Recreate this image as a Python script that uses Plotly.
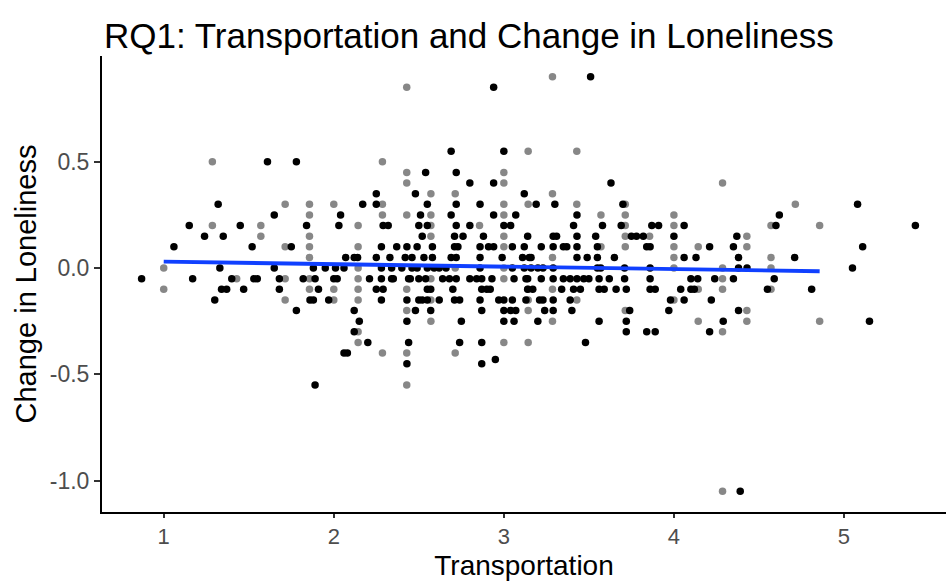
import plotly.graph_objects as go

# Observed (grey) data: Transportation (means of 7 items) vs change in loneliness
grey_x = [
    3.286,
    2.429,
    3.143, 3.429,
    1.286, 2.286,
    2.429, 3.0,
    2.429, 3.0, 4.286,
    2.571, 2.714, 3.286,
    1.714, 1.857, 2.0, 2.286, 3.0, 3.143, 3.429, 3.714, 4.714,
    1.857, 2.286, 2.429, 2.571, 3.0, 3.571, 3.714, 4.0,
    1.286, 1.571, 2.143, 2.571, 2.857, 3.714, 4.0, 4.571, 4.857,
    1.571, 1.857, 2.571, 3.0, 3.714, 3.857, 4.429,
    1.714, 1.857, 2.143, 3.0, 3.571, 3.714, 4.0, 4.143, 4.429,
    1.857, 3.286, 4.0, 4.571,
    1.0, 2.143, 2.714, 3.0, 4.0, 4.286, 4.571,
    1.429, 1.714, 1.857, 2.143, 2.571, 3.0, 4.286,
    1.0, 1.857, 2.0, 2.143, 2.429, 3.143, 3.286, 4.143, 4.286, 4.571,
    1.714, 2.0, 2.143, 2.571, 3.143, 3.429, 4.0,
    2.429, 3.143, 3.714, 4.429,
    2.571, 3.286, 4.143, 4.429, 4.857,
    2.143, 4.286,
    2.143, 3.0, 3.143,
    2.286, 2.429, 2.714,
    2.429,
    4.286,
]
grey_y = [
    0.9,
    0.85,
    0.55, 0.55,
    0.5, 0.5,
    0.45, 0.45,
    0.4, 0.4, 0.4,
    0.35, 0.35, 0.35,
    0.3, 0.3, 0.3, 0.3, 0.3, 0.3, 0.3, 0.3, 0.3,
    0.25, 0.25, 0.25, 0.25, 0.25, 0.25, 0.25, 0.25,
    0.2, 0.2, 0.2, 0.2, 0.2, 0.2, 0.2, 0.2, 0.2,
    0.15, 0.15, 0.15, 0.15, 0.15, 0.15, 0.15,
    0.1, 0.1, 0.1, 0.1, 0.1, 0.1, 0.1, 0.1, 0.1,
    0.05, 0.05, 0.05, 0.05,
    0.0, 0.0, 0.0, 0.0, 0.0, 0.0, 0.0,
    -0.05, -0.05, -0.05, -0.05, -0.05, -0.05, -0.05,
    -0.1, -0.1, -0.1, -0.1, -0.1, -0.1, -0.1, -0.1, -0.1, -0.1,
    -0.15, -0.15, -0.15, -0.15, -0.15, -0.15, -0.15,
    -0.2, -0.2, -0.2, -0.2,
    -0.25, -0.25, -0.25, -0.25, -0.25,
    -0.3, -0.3,
    -0.35, -0.35, -0.35,
    -0.4, -0.4, -0.4,
    -0.55,
    -1.05,
]

# Jittered (black) points
black_x = [
    3.51,
    2.94,
    2.69, 3.00,
    1.61, 1.78,
    2.54, 2.72,
    2.80, 2.94, 3.63,
    2.25, 2.48, 3.12,
    1.32, 2.17, 2.25, 2.55, 2.72, 2.86, 3.19, 3.30, 3.70, 5.08,
    1.65, 2.04, 2.51, 2.69, 2.94, 3.07, 3.43, 4.62,
    1.15, 1.45, 1.84, 2.03, 2.29, 2.32, 2.50, 2.55, 2.72, 2.80, 3.00, 3.04, 3.41, 3.58, 3.69, 3.87, 3.91, 4.06, 4.60, 5.42,
    1.24, 1.35, 2.52, 2.71, 2.76, 2.88, 3.14, 3.29, 3.31, 3.43, 3.54, 3.75, 3.78, 3.82, 4.00, 4.37,
    1.06, 1.52, 1.75, 2.28, 2.37, 2.43, 2.49, 2.58, 2.71, 2.73, 2.86, 2.91, 2.94, 3.05, 3.12, 3.22, 3.29, 3.35, 3.37, 3.43, 3.55, 3.84, 3.86, 4.21, 4.35, 5.11,
    2.07, 2.12, 2.14, 2.25, 2.33, 2.42, 2.46, 2.53, 2.58, 2.69, 2.72, 2.86, 2.99, 3.11, 3.15, 3.16, 3.43, 3.49, 3.55, 3.65, 4.06, 4.13, 4.38, 4.71,
    1.33, 1.65, 1.88, 1.95, 2.01, 2.06, 2.28, 2.34, 2.40, 2.46, 2.49, 2.55, 2.59, 2.62, 2.66, 2.86, 3.05, 3.12, 3.16, 3.20, 3.23, 3.29, 3.55, 3.57, 3.71, 3.86, 4.38, 4.43, 5.05,
    0.87, 1.17, 1.40, 1.53, 1.55, 1.68, 1.82, 1.89, 2.00, 2.02, 2.21, 2.28, 2.34, 2.35, 2.44, 2.45, 2.50, 2.54, 2.64, 2.68, 2.72, 2.80, 2.84, 2.87, 2.93, 3.06, 3.13, 3.14, 3.22, 3.29, 3.35, 3.39, 3.43, 3.47, 3.50, 3.56, 3.62, 3.71, 3.86, 4.10, 4.14, 4.24, 4.35, 4.59,
    1.34, 1.37, 1.47, 1.68, 1.91, 2.25, 2.29, 2.55, 2.57, 2.70, 2.87, 2.90, 2.92, 3.14, 3.17, 3.34, 3.41, 3.45, 3.56, 3.59, 3.66, 3.72, 3.86, 3.89, 4.04, 4.10, 4.12, 4.55, 4.81,
    1.30, 1.86, 1.88, 1.97, 2.28, 2.43, 2.50, 2.52, 2.55, 2.62, 2.71, 2.74, 2.86, 2.97, 3.00, 3.05, 3.13, 3.21, 3.23, 3.29, 3.39, 3.98, 4.06, 4.22,
    1.78, 2.12, 2.48, 2.57, 2.87, 3.00, 3.04, 3.07, 3.24, 3.29, 3.40, 3.74, 3.97, 4.38,
    2.15, 2.43, 2.75, 3.00, 3.06, 3.20, 3.56, 3.72, 4.29, 5.15,
    2.12, 3.72, 3.84, 3.89, 4.21,
    2.20, 2.44, 2.74, 2.87, 3.48,
    2.06, 2.08,
    2.95,
    2.43, 2.87,
    1.89,
    4.39,
]
black_y = [
    0.9,
    0.85,
    0.55, 0.55,
    0.5, 0.5,
    0.45, 0.45,
    0.4, 0.4, 0.4,
    0.35, 0.35, 0.35,
    0.3, 0.3, 0.3, 0.3, 0.3, 0.3, 0.3, 0.3, 0.3, 0.3,
    0.25, 0.25, 0.25, 0.25, 0.25, 0.25, 0.25, 0.25,
    0.2, 0.2, 0.2, 0.2, 0.2, 0.2, 0.2, 0.2, 0.2, 0.2, 0.2, 0.2, 0.2, 0.2, 0.2, 0.2, 0.2, 0.2, 0.2, 0.2,
    0.15, 0.15, 0.15, 0.15, 0.15, 0.15, 0.15, 0.15, 0.15, 0.15, 0.15, 0.15, 0.15, 0.15, 0.15, 0.15,
    0.1, 0.1, 0.1, 0.1, 0.1, 0.1, 0.1, 0.1, 0.1, 0.1, 0.1, 0.1, 0.1, 0.1, 0.1, 0.1, 0.1, 0.1, 0.1, 0.1, 0.1, 0.1, 0.1, 0.1, 0.1, 0.1,
    0.05, 0.05, 0.05, 0.05, 0.05, 0.05, 0.05, 0.05, 0.05, 0.05, 0.05, 0.05, 0.05, 0.05, 0.05, 0.05, 0.05, 0.05, 0.05, 0.05, 0.05, 0.05, 0.05, 0.05,
    0.0, 0.0, 0.0, 0.0, 0.0, 0.0, 0.0, 0.0, 0.0, 0.0, 0.0, 0.0, 0.0, 0.0, 0.0, 0.0, 0.0, 0.0, 0.0, 0.0, 0.0, 0.0, 0.0, 0.0, 0.0, 0.0, 0.0, 0.0, 0.0,
    -0.05, -0.05, -0.05, -0.05, -0.05, -0.05, -0.05, -0.05, -0.05, -0.05, -0.05, -0.05, -0.05, -0.05, -0.05, -0.05, -0.05, -0.05, -0.05, -0.05, -0.05, -0.05,
    -0.05, -0.05, -0.05, -0.05, -0.05, -0.05, -0.05, -0.05, -0.05, -0.05, -0.05, -0.05, -0.05, -0.05, -0.05, -0.05, -0.05, -0.05, -0.05, -0.05, -0.05, -0.05,
    -0.1, -0.1, -0.1, -0.1, -0.1, -0.1, -0.1, -0.1, -0.1, -0.1, -0.1, -0.1, -0.1, -0.1, -0.1, -0.1, -0.1, -0.1, -0.1, -0.1, -0.1, -0.1, -0.1, -0.1, -0.1, -0.1, -0.1, -0.1, -0.1,
    -0.15, -0.15, -0.15, -0.15, -0.15, -0.15, -0.15, -0.15, -0.15, -0.15, -0.15, -0.15, -0.15, -0.15, -0.15, -0.15, -0.15, -0.15, -0.15, -0.15, -0.15, -0.15, -0.15, -0.15,
    -0.2, -0.2, -0.2, -0.2, -0.2, -0.2, -0.2, -0.2, -0.2, -0.2, -0.2, -0.2, -0.2, -0.2,
    -0.25, -0.25, -0.25, -0.25, -0.25, -0.25, -0.25, -0.25, -0.25, -0.25,
    -0.3, -0.3, -0.3, -0.3, -0.3,
    -0.35, -0.35, -0.35, -0.35, -0.35,
    -0.4, -0.4,
    -0.43,
    -0.45, -0.45,
    -0.55,
    -1.05,
]

# Linear fit line
fit_x = [1.0, 4.857]
fit_y = [0.030, -0.015]

x_tickvals = [1, 2, 3, 4, 5]
x_ticktext = ["1", "2", "3", "4", "5"]
y_tickvals = [-1.0, -0.5, 0.0, 0.5]
y_ticktext = ["-1.0", "-0.5", "0.0", "0.5"]

FONT = "Liberation Sans, Arial, Helvetica, sans-serif"

fig = go.Figure()
fig.add_trace(go.Scatter(x=grey_x, y=grey_y, mode="markers",
                         marker=dict(size=7.5, color="rgba(0,0,0,0.47)", line=dict(width=0)),
                         hoverinfo="x+y", showlegend=False))
fig.add_trace(go.Scatter(x=black_x, y=black_y, mode="markers",
                         marker=dict(size=7.5, color="black", line=dict(width=0)),
                         hoverinfo="x+y", showlegend=False))
fig.add_trace(go.Scatter(x=fit_x, y=fit_y, mode="lines",
                         line=dict(color="#1040FF", width=3.8),
                         hoverinfo="skip", showlegend=False))

fig.update_layout(
    width=946, height=581,
    margin=dict(l=102, r=0, t=56, b=69),
    paper_bgcolor="white", plot_bgcolor="white",
    font=dict(family=FONT, color="black"),
    title=dict(text="RQ1: Transportation and Change in Loneliness",
               font=dict(size=35, color="black", family=FONT),
               x=104 / 946, xanchor="left", xref="container",
               y=1 - 36 / 581, yanchor="middle", yref="container"),
    xaxis=dict(range=[0.637, 5.6], tickvals=x_tickvals, ticktext=x_ticktext,
               showgrid=False, zeroline=False, showline=True, linecolor="black", linewidth=2,
               ticks="outside", ticklen=4, tickwidth=2, tickcolor="#333333",
               tickfont=dict(size=22, color="#4D4D4D", family=FONT),
               title=dict(text="Transportation", font=dict(size=28, color="black", family=FONT), standoff=9)),
    yaxis=dict(range=[-1.1475, 0.9975], tickvals=y_tickvals, ticktext=y_ticktext,
               showgrid=False, zeroline=False, showline=True, linecolor="black", linewidth=2,
               ticks="outside", ticklen=6, tickwidth=2, tickcolor="#333333",
               tickfont=dict(size=23, color="#4D4D4D", family=FONT),
               title=dict(text="Change in Loneliness", font=dict(size=29, color="black", family=FONT), standoff=5)),
)

fig.write_html("out.html")
